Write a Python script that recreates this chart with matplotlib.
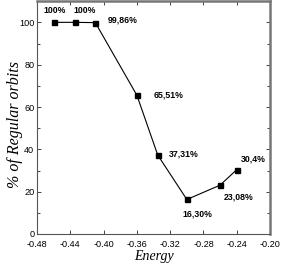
import matplotlib
matplotlib.use("Agg")
import matplotlib.pyplot as plt
from matplotlib.ticker import MultipleLocator

energy = [-0.46, -0.435, -0.41, -0.36, -0.335, -0.30, -0.26, -0.24]
regular = [100, 100, 99.86, 65.51, 37.31, 16.30, 23.08, 30.4]
labels = ["100%", "100%", "99,86%", "65,51%", "37,31%", "16,30%", "23,08%", "30,4%"]
label_pos = [(-0.4584, 105.8), (-0.4223, 105.8), (-0.3766, 101.1), (-0.3214, 65.7),
             (-0.3037, 37.8), (-0.2877, 9.4), (-0.2378, 17.5), (-0.2204, 35.4)]
xticks = [-0.48, -0.44, -0.40, -0.36, -0.32, -0.28, -0.24, -0.20]
xticklabels = ["-0.48", "-0.44", "-0.40", "-0.36", "-0.32", "-0.28", "-0.24", "-0.20"]
yticks = [0, 20, 40, 60, 80, 100]

fig = plt.figure(figsize=(2.81, 2.67), dpi=100)
ax = fig.add_axes([0.132, 0.1236, 0.829, 0.872])

ax.plot(energy, regular, color="black", lw=0.8, marker="s", ms=3.6,
        markerfacecolor="black", markeredgecolor="black")
for t, (x, y) in zip(labels, label_pos):
    ax.text(x, y, t, ha="center", va="center", fontsize=6.3, fontweight="bold",
            family="Liberation Sans")

ax.set_xlim(-0.48, -0.20)
ax.set_ylim(0, 110)
ax.set_xticks(xticks)
ax.set_xticklabels(xticklabels)
ax.set_yticks(yticks)
ax.yaxis.set_minor_locator(MultipleLocator(10))
ax.tick_params(which="both", direction="in", top=True, right=True,
               labelsize=6.6, length=3, width=0.7, color="#444444", pad=2)
ax.tick_params(axis="x", which="both", pad=4)
ax.tick_params(which="minor", length=2.5)
for lab in ax.get_xticklabels() + ax.get_yticklabels():
    lab.set_family("Liberation Sans")

for s in ["left", "bottom"]:
    ax.spines[s].set_color("#555555")
    ax.spines[s].set_linewidth(0.8)
for s in ["top", "right"]:
    ax.spines[s].set_color("#777777")
    ax.spines[s].set_linewidth(1.8)

ax.set_xlabel("Energy", fontsize=10, style="italic", family="Liberation Serif", labelpad=1)
ax.set_ylabel("% of Regular orbits", fontsize=11.5, style="italic", family="Liberation Serif")
ax.yaxis.set_label_coords(-0.06, 0.47)

fig.savefig("out.png", dpi=100)
